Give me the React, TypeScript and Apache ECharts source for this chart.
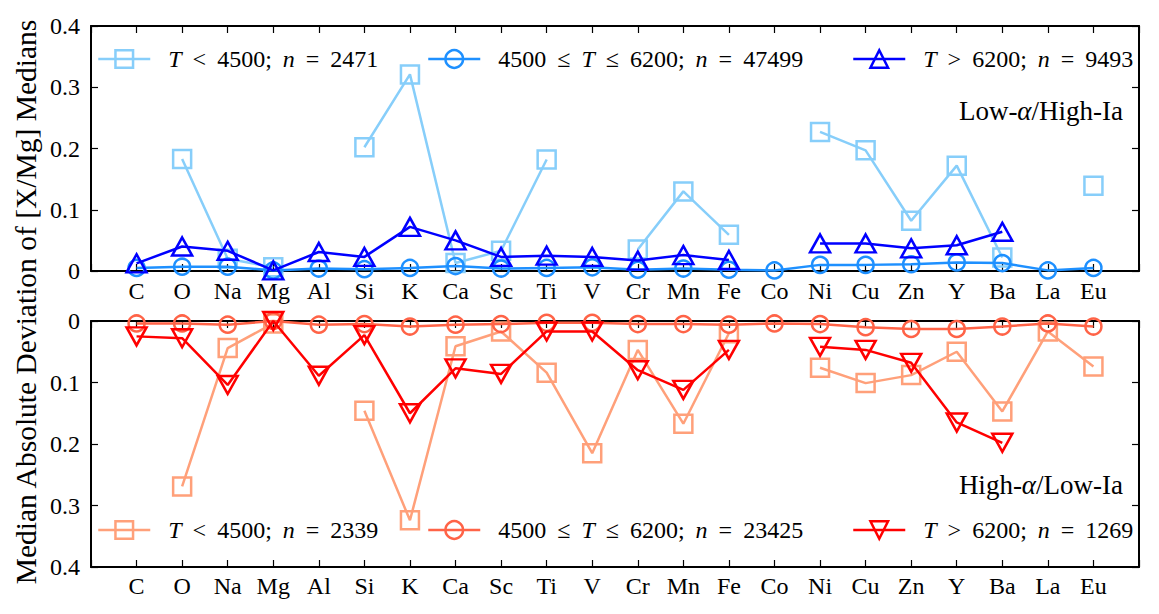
import React, { useEffect, useRef } from 'react';
import * as echarts from 'echarts';

const ELEMENTS = ['C', 'O', 'Na', 'Mg', 'Al', 'Si', 'K', 'Ca', 'Sc', 'Ti', 'V', 'Cr', 'Mn', 'Fe', 'Co', 'Ni', 'Cu', 'Zn', 'Y', 'Ba', 'La', 'Eu'];

// Top panel: Low-alpha / High-Ia
const LOW_COOL = [null, 0.183, 0.020, 0.006, null, 0.202, 0.321, 0.013, 0.033, 0.182, null, 0.035, 0.130, 0.059, null, 0.227, 0.197, 0.082, 0.172, 0.022, null, 0.139];
const LOW_MID = [0.005, 0.007, 0.007, 0.001, 0.004, 0.003, 0.005, 0.008, 0.004, 0.005, 0.006, 0.002, 0.004, 0.002, 0.001, 0.010, 0.010, 0.011, 0.014, 0.013, 0.001, 0.005];
const LOW_HOT = [0.0125, 0.040, 0.033, 0.001, 0.031, 0.023, 0.072, 0.050, 0.023, 0.025, 0.023, 0.017, 0.026, 0.018, null, 0.045, 0.045, 0.037, 0.042, 0.064, null, null];

// Bottom panel: High-alpha / Low-Ia
const HIGH_COOL = [null, 0.269, 0.044, 0.004, null, 0.146, 0.324, 0.041, 0.017, 0.084, 0.215, 0.047, 0.167, 0.020, null, 0.076, 0.101, 0.088, 0.050, 0.147, 0.017, 0.074];
const HIGH_MID = [0.004, 0.004, 0.006, 0.0, 0.006, 0.005, 0.009, 0.006, 0.005, 0.003, 0.003, 0.005, 0.005, 0.006, 0.004, 0.005, 0.010, 0.013, 0.013, 0.009, 0.004, 0.009];
const HIGH_HOT = [0.025, 0.028, 0.104, 0.0, 0.089, 0.023, 0.150, 0.077, 0.086, 0.017, 0.017, 0.080, 0.112, 0.047, null, 0.042, 0.047, 0.068, 0.165, 0.198, null, null];

// {s|} = math-style spacing around relations
const LEGEND_TEXT: Record<string, string> = {
  lowCool: '{g|}{i|T}{s|}<{s|}4500;{s|}{i|n}{s|}={s|}2471',
  lowMid: '{g|}4500{s|}≤{s|}{i|T}{s|}≤{s|}6200;{s|}{i|n}{s|}={s|}47499',
  lowHot: '{g|}{i|T}{s|}>{s|}6200;{s|}{i|n}{s|}={s|}9493',
  highCool: '{g|}{i|T}{s|}<{s|}4500;{s|}{i|n}{s|}={s|}2339',
  highMid: '{g|}4500{s|}≤{s|}{i|T}{s|}≤{s|}6200;{s|}{i|n}{s|}={s|}23425',
  highHot: '{g|}{i|T}{s|}>{s|}6200;{s|}{i|n}{s|}={s|}1269',
};

const FONT = "'Liberation Serif', 'DejaVu Serif', serif";
const FS = 24;

const toPairs = (vals: (number | null)[]) => vals.map((v, i) => [i, v === null ? '-' : v]);

export default function App() {
  const ref = useRef<HTMLDivElement>(null);
  useEffect(() => {
    const chart = echarts.init(ref.current!, null, { renderer: 'svg' });

    const xAxis = (gridIndex: number, position: string, showLabels: boolean, margin: number) => ({
      type: 'value', gridIndex, position, min: -1, max: 22, interval: 1,
      axisLine: { show: true, onZero: false, lineStyle: { color: '#000', width: 2 } },
      axisTick: { show: true, inside: true, length: 7, lineStyle: { color: '#000', width: 1.2 } },
      axisLabel: {
        show: showLabels, margin, color: '#000', fontFamily: FONT, fontSize: FS,
        formatter: (v: number) => ELEMENTS[Math.round(v)] ?? '',
      },
      splitLine: { show: false },
    });
    const yAxis = (gridIndex: number, position: string, inverse: boolean, showLabels: boolean) => ({
      type: 'value', gridIndex, position, min: 0, max: 0.4, interval: 0.1, inverse,
      axisLine: { show: true, onZero: false, lineStyle: { color: '#000', width: 2 } },
      axisTick: { show: true, inside: true, length: 7, lineStyle: { color: '#000', width: 1.2 } },
      axisLabel: {
        show: showLabels, margin: 11, color: '#000', fontFamily: FONT, fontSize: FS,
        formatter: (v: number) => (v === 0 ? '0' : v.toFixed(1)),
      },
      splitLine: { show: false },
    });

    const series = (name: string, data: (number | null)[], axisIdx: number, color: string, symbol: string, size: any, rotate: number, z: number) => ({
      type: 'line', name, data: toPairs(data), xAxisIndex: axisIdx * 2, yAxisIndex: axisIdx * 2,
      symbol, symbolSize: size, symbolRotate: rotate, showSymbol: true, z,
      lineStyle: { color, width: 2.5 },
      itemStyle: { color: 'transparent', borderColor: color, borderWidth: 2.5 },
      emphasis: { disabled: true },
      clip: false,
    });

    const legend = (name: string, left: number, top: number, color: string) => ({
      show: true, data: [name], left, top, padding: 0,
      itemWidth: 52, itemHeight: 22, selectedMode: false,
      lineStyle: { color, width: 2.5 },
      itemStyle: { color: 'transparent', borderColor: color, borderWidth: 2.5 },
      formatter: (n: string) => LEGEND_TEXT[n],
      textStyle: {
        color: '#000', fontFamily: FONT, fontSize: FS, lineHeight: 24,
        rich: {
          g: { width: 13 },
          s: { width: 11 },
          i: { fontStyle: 'italic', fontFamily: FONT, fontSize: FS },
        },
      },
    });

    const C1 = '#87CEFA', C2 = '#1E90FF', C3 = '#0000FF';
    const D1 = '#FFA07A', D2 = '#FF6347', D3 = '#FF0000';
    const LABEL_FS = 27;

    chart.setOption({
      animation: false,
      backgroundColor: '#fff',
      grid: [
        { left: 91, top: 26, width: 1048, height: 245 },
        { left: 91, top: 321, width: 1048, height: 246 },
      ],
      xAxis: [
        xAxis(0, 'bottom', true, 8),
        xAxis(0, 'top', false, 8),
        xAxis(1, 'bottom', true, 7),
        xAxis(1, 'top', false, 8),
      ],
      yAxis: [
        yAxis(0, 'left', false, true),
        yAxis(0, 'right', false, false),
        yAxis(1, 'left', true, true),
        yAxis(1, 'right', true, false),
      ],
      legend: [
        legend('lowCool', 97, 47, C1),
        legend('lowMid', 427, 47, C2),
        legend('lowHot', 852, 47, C3),
        legend('highCool', 97, 518, D1),
        legend('highMid', 427, 518, D2),
        legend('highHot', 852, 518, D3),
      ],
      series: [
        series('lowCool', LOW_COOL, 0, C1, 'rect', 18, 0, 2),
        series('lowMid', LOW_MID, 0, C2, 'circle', 16, 0, 3),
        series('lowHot', LOW_HOT, 0, C3, 'triangle', [20, 18], 0, 4),
        series('highCool', HIGH_COOL, 1, D1, 'rect', 18, 0, 2),
        series('highMid', HIGH_MID, 1, D2, 'circle', 16, 0, 3),
        series('highHot', HIGH_HOT, 1, D3, 'triangle', [20, 18], 180, 4),
      ],
      graphic: [
        {
          type: 'text', x: 26, y: 302, rotation: Math.PI / 2,
          style: {
            text: 'Median Absolute Deviation of [X/Mg] Medians',
            fill: '#000', fontFamily: FONT, fontSize: 29.5, align: 'center', verticalAlign: 'middle',
          },
        },
        {
          type: 'text', x: 1123, y: 111,
          style: {
            text: 'Low-{a|α}/High-Ia', fill: '#000', fontFamily: FONT, fontSize: LABEL_FS,
            align: 'right', verticalAlign: 'middle',
            rich: { a: { fontStyle: 'italic', fontFamily: FONT, fontSize: LABEL_FS } },
          },
        },
        {
          type: 'text', x: 1123, y: 485,
          style: {
            text: 'High-{a|α}/Low-Ia', fill: '#000', fontFamily: FONT, fontSize: LABEL_FS,
            align: 'right', verticalAlign: 'middle',
            rich: { a: { fontStyle: 'italic', fontFamily: FONT, fontSize: LABEL_FS } },
          },
        },
      ],
    });
    return () => chart.dispose();
  }, []);
  return <div ref={ref} style={{ position: 'fixed', left: 0, top: 0, width: 1159, height: 614, background: '#fff' }} />;
}
